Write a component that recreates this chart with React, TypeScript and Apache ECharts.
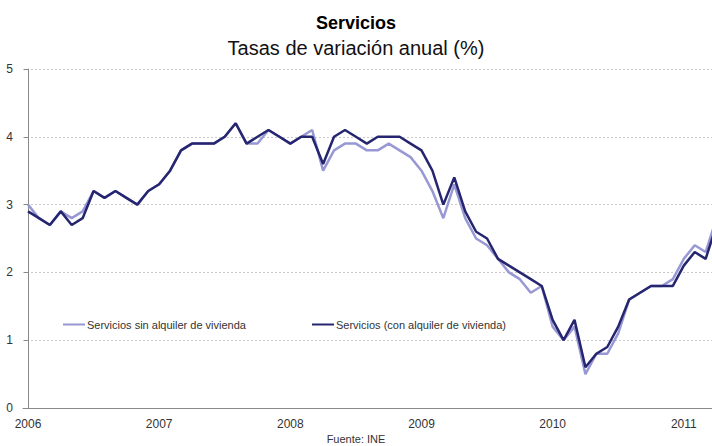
import React, { useEffect, useRef } from "react";
import * as echarts from "echarts";

const startYear = 2006;
const yearTicks = [0, 12, 24, 36, 48, 60];

const conAlquiler = [
  2.9, 2.8, 2.7, 2.9, 2.7, 2.8, 3.2, 3.1, 3.2, 3.1, 3.0, 3.2,
  3.3, 3.5, 3.8, 3.9, 3.9, 3.9, 4.0, 4.2, 3.9, 4.0, 4.1, 4.0,
  3.9, 4.0, 4.0, 3.6, 4.0, 4.1, 4.0, 3.9, 4.0, 4.0, 4.0, 3.9,
  3.8, 3.5, 3.0, 3.4, 2.9, 2.6, 2.5, 2.2, 2.1, 2.0, 1.9, 1.8,
  1.3, 1.0, 1.3, 0.6, 0.8, 0.9, 1.2, 1.6, 1.7, 1.8, 1.8, 1.8,
  2.1, 2.3, 2.2, 2.7,
];

const sinAlquiler = [
  3.0, 2.8, 2.7, 2.9, 2.8, 2.9, 3.2, 3.1, 3.2, 3.1, 3.0, 3.2,
  3.3, 3.5, 3.8, 3.9, 3.9, 3.9, 4.0, 4.2, 3.9, 3.9, 4.1, 4.0,
  3.9, 4.0, 4.1, 3.5, 3.8, 3.9, 3.9, 3.8, 3.8, 3.9, 3.8, 3.7,
  3.5, 3.2, 2.8, 3.3, 2.8, 2.5, 2.4, 2.2, 2.0, 1.9, 1.7, 1.8,
  1.2, 1.0, 1.2, 0.5, 0.8, 0.8, 1.1, 1.6, 1.7, 1.8, 1.8, 1.9,
  2.2, 2.4, 2.3, 2.8,
];

const seriesNames = ["Servicios sin alquiler de vivienda", "Servicios (con alquiler de vivienda)"];
const FONT = "Liberation Sans, Arial, sans-serif";

export default function App() {
  const ref = useRef<HTMLDivElement>(null);
  useEffect(() => {
    if (!ref.current) return;
    const chart = echarts.init(ref.current, null, { renderer: "svg" });
    const pxPerMonth = 10.93;
    const plotW = 689;
    const xMin = -5 / pxPerMonth;
    const xMax = xMin + plotW / pxPerMonth;
    chart.setOption({
      animation: false,
      textStyle: { fontFamily: FONT },
      title: [
        {
          text: "Servicios",
          left: "center",
          top: 9,
          textStyle: { fontFamily: FONT, fontSize: 18, fontWeight: "bold", color: "#000" },
        },
        {
          text: "Tasas de variación anual (%)",
          left: "center",
          top: 33,
          textStyle: { fontFamily: FONT, fontSize: 20, fontWeight: "normal", color: "#111" },
        },
      ],
      legend: {
        left: 58,
        top: 314,
        itemWidth: 22,
        itemHeight: 14,
        itemGap: 66,
        icon: "path://M0,6 L22,6 L22,8 L0,8 Z",
        textStyle: { fontFamily: FONT, fontSize: 11, color: "#333", padding: [0, 0, 0, -3] },
        data: seriesNames,
      },
      grid: { left: 23, right: 0, top: 69, bottom: 38, containLabel: false },
      xAxis: {
        type: "value",
        min: xMin,
        max: xMax,
        axisLine: { lineStyle: { color: "#888", width: 1 } },
        axisTick: { show: false },
        splitLine: { show: false },
        axisLabel: {
          customValues: yearTicks,
          formatter: (v: number) => String(startYear + Math.round(v / 12)),
          color: "#333",
          fontSize: 12,
          margin: 10,
          fontFamily: FONT,
        },
      },
      yAxis: {
        type: "value",
        min: 0,
        max: 5,
        interval: 1,
        axisLine: { show: true, lineStyle: { color: "#888", width: 1 } },
        axisTick: { show: true, length: 4, lineStyle: { color: "#888" } },
        splitLine: { show: true, lineStyle: { color: "#c8c8c8", type: [2, 2] } },
        axisLabel: { color: "#333", fontSize: 12, margin: 10, fontFamily: FONT },
      },
      series: [
        {
          name: seriesNames[0],
          type: "line",
          data: sinAlquiler.map((v, i) => [i, v]),
          symbol: "none",
          clip: true,
          color: "#9898d4",
          lineStyle: { color: "#9898d4", width: 2.5 },
          z: 2,
        },
        {
          name: seriesNames[1],
          type: "line",
          data: conAlquiler.map((v, i) => [i, v]),
          symbol: "none",
          clip: true,
          color: "#262670",
          lineStyle: { color: "#262670", width: 2.5 },
          z: 3,
        },
      ],
      graphic: [
        {
          type: "text",
          left: "center",
          top: 433,
          style: { text: "Fuente: INE", fontFamily: FONT, fontSize: 11, fill: "#333" },
        },
      ],
    });
    return () => chart.dispose();
  }, []);
  return (
    <div
      ref={ref}
      style={{ position: "fixed", left: 0, top: 0, width: 712, height: 446, background: "#fff" }}
    />
  );
}
